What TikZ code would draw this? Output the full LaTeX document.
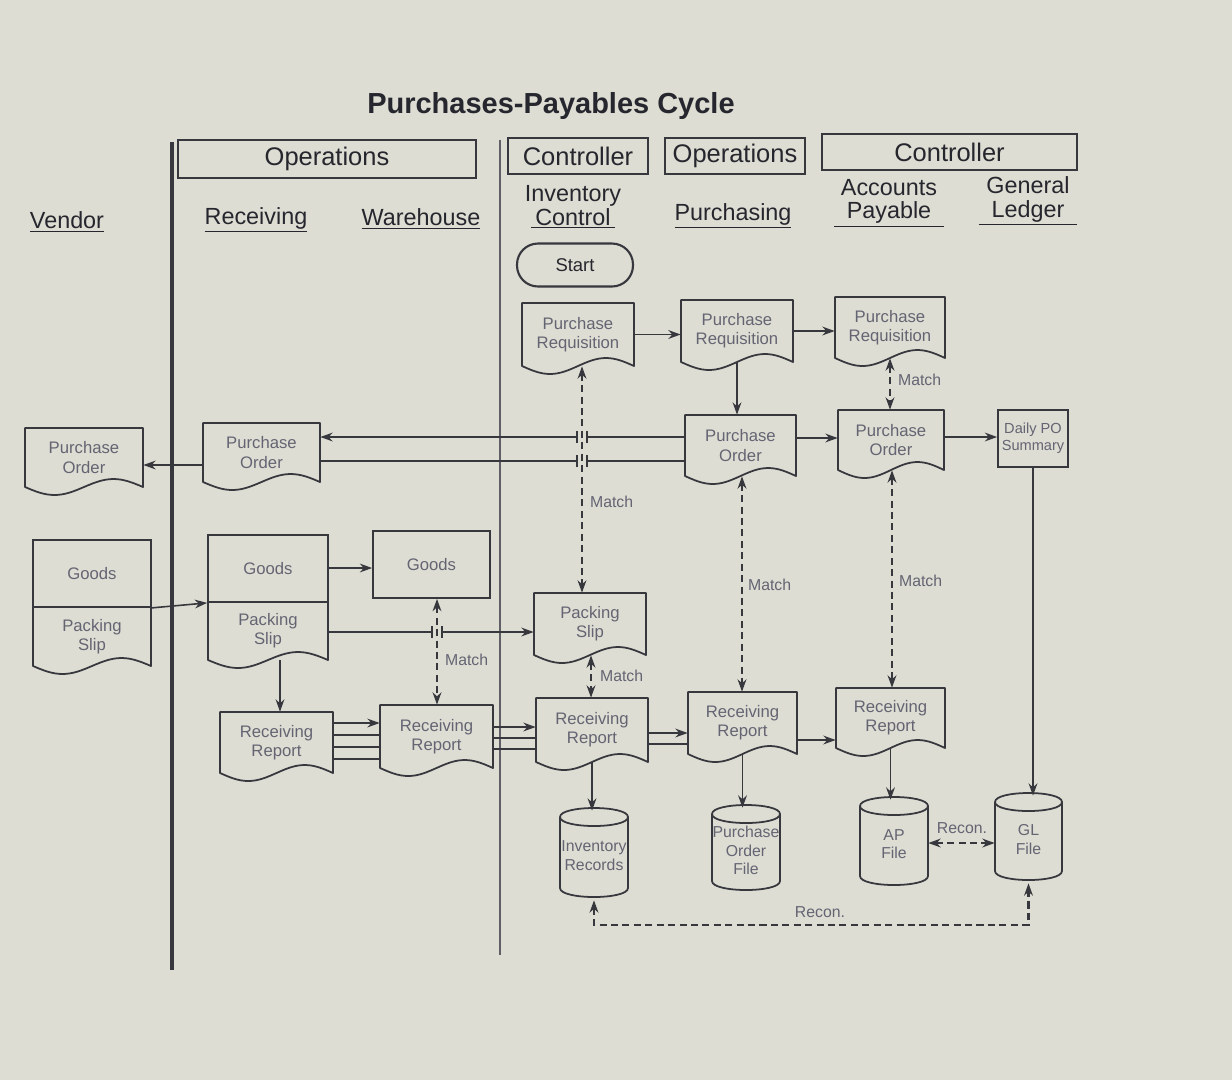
\documentclass[tikz,border=0pt]{standalone}
\usepackage{fontspec}
\setmainfont{Liberation Sans}
\usetikzlibrary{arrows.meta,calc}
\definecolor{bg}{RGB}{221,221,211}
\definecolor{ln}{RGB}{55,55,62}
\definecolor{tx}{RGB}{100,100,115}
\definecolor{hd}{RGB}{38,38,46}

% box node placed by corners (pixel coords): style, name, x1, y1, x2, y2, text
\newcommand\boxat[7]{%
  \pgfmathsetmacro\mycx{(#3+#5)/2}%
  \pgfmathsetmacro\mycy{(#4+#6)/2}%
  \pgfmathsetmacro\myw{(#5-#3)*0.02}%
  \pgfmathsetmacro\myh{(#6-#4)*0.02}%
  \node[#1, minimum width=\myw cm, minimum height=\myh cm] (#2) at (\mycx,\mycy) {#7};
}
\newcommand\docshape[6]{%
  \boxat{doctxt}{#1}{#2}{#3}{#4}{#5}{#6}%
  \pgfmathsetmacro\mydq{(#4-#2)/4}%
  \draw[shp] (#4,#5) sin ++(-\mydq,-8) cos ++(-\mydq,8) sin ++(-\mydq,8) cos ++(-\mydq,-8) -- (#2,#3) -- (#4,#3) -- cycle;
}
\newcommand\cylshape[6]{%
  \boxat{cyltxt}{#1}{#2}{#3}{#4}{#5}{#6}%
  \draw[shp] (#2,#3+9) -- (#2,#5-9) .. controls (#2,#5+3) and (#4,#5+3) .. (#4,#5-9) -- (#4,#3+9);
  \draw[shp] (#2,#3+9) .. controls (#2,#3-3) and (#4,#3-3) .. (#4,#3+9) .. controls (#4,#3+21) and (#2,#3+21) .. cycle;
}
\newcommand\bridge[2]{%
  \fill[bg] (#1-5,#2-3) rectangle (#1+5,#2+3);
  \draw[ln, line width=0.8pt] (#1-5,#2-6) -- (#1-5,#2+6) (#1+5,#2-6) -- (#1+5,#2+6);
}

\begin{document}
\begin{tikzpicture}[x=0.02cm, y=-0.02cm,
  shp/.style={draw=ln, line width=1pt, line join=round},
  doctxt/.style={inner sep=0pt, align=center, text=tx, font=\fontsize{9.5}{11}\selectfont},
  cyltxt/.style={inner sep=0pt, align=center, text=tx, font=\fontsize{9}{10.5}\selectfont, yshift=-0.06cm},
  rectbox/.style={draw=ln, line width=1pt, inner sep=0pt, align=center, text=tx, font=\fontsize{9.5}{11}\selectfont},
  smallbox/.style={rectbox, font=\fontsize{8.3}{9.5}\selectfont},
  hdbox/.style={draw=ln, line width=1.3pt, inner sep=0pt, text=hd, font=\fontsize{14.5}{17}\selectfont},
  colhd/.style={text=hd, align=center, font=\fontsize{13.3}{13.5}\selectfont},
  arr/.style={draw=ln, line width=0.9pt, -{Stealth[length=7pt,width=5pt]}},
  lnk/.style={draw=ln, line width=0.9pt},
  dsh/.style={draw=ln, line width=1.2pt, dash pattern=on 4pt off 2.5pt, {Stealth[length=7pt,width=5pt]}-{Stealth[length=7pt,width=5pt]}},
  lbl/.style={text=tx, font=\fontsize{9}{10}\selectfont, inner sep=1pt, anchor=west},
]
\fill[bg] (0,0) rectangle (1232,1080);

% title
\node[text=hd, font=\bfseries\fontsize{16.5}{19}\selectfont] (title) at (551,106) {Purchases-Payables Cycle};

% lane lines
\draw[ln, line width=2.8pt] (172,142) -- (172,970);
\draw[ln!80, line width=0.8pt] (500,140) -- (500,955);

% header boxes
\boxat{hdbox}{ops1}{178}{140}{476}{178}{Operations}
\boxat{hdbox}{ctl1}{508}{138}{648}{174}{Controller}
\boxat{hdbox}{ops2}{665}{138}{805}{174}{Operations}
\boxat{hdbox}{ctl2}{822}{134}{1077}{170}{Controller}

% column headers
\node[colhd] (hvendor) at (67,222) {\underline{Vendor}};
\node[colhd] (hrec) at (256,220) {\underline{Receiving}};
\node[colhd] (hwh) at (421,219) {\underline{Warehouse}};
\node[colhd] (hinv) at (573,207) {Inventory\\\underline{\,Control\,}};
\node[colhd] (hpur) at (733,216) {\underline{Purchasing}};
\node[colhd] (hap) at (889,203) {Accounts\\\underline{\ \ Payable\ \ }};
\node[colhd] (hgl) at (1028,201) {General\\\underline{\ \ Ledger\ \ }};

% start
\node[draw=ln, line width=1.2pt, rounded corners=0.42cm, minimum width=2.32cm, minimum height=0.86cm, text=hd, font=\fontsize{10.5}{12}\selectfont] (start) at (575,265) {Start};

% documents
\docshape{pr1}{522}{303}{634}{366}{Purchase\\Requisition}
\docshape{pr2}{681}{300}{793}{362}{Purchase\\Requisition}
\docshape{pr3}{835}{297}{945}{358}{Purchase\\Requisition}
\docshape{povend}{25}{428}{143}{487}{Purchase\\Order}
\docshape{porec}{203}{423}{320}{482}{Purchase\\Order}
\docshape{popur}{685}{415}{796}{476}{Purchase\\Order}
\docshape{poap}{838}{410}{944}{470}{Purchase\\Order}
\boxat{smallbox}{dpo}{998}{410}{1068}{467}{Daily PO\\Summary}

\boxat{rectbox}{vgoods}{33}{540}{151}{607}{Goods}
\docshape{vps}{33}{607}{151}{666}{Packing\\Slip}
\boxat{rectbox}{rgoods}{208}{535}{328}{602}{Goods}
\docshape{rps}{208}{602}{328}{660}{Packing\\Slip}
\boxat{rectbox}{whgoods}{373}{531}{490}{598}{Goods}
\docshape{psinv}{534}{593}{646}{655}{Packing\\Slip}

\docshape{rrrec}{220}{712}{333}{773}{Receiving\\Report}
\docshape{rrwh}{380}{705}{493}{768}{Receiving\\Report}
\docshape{rrinv}{536}{698}{648}{762}{Receiving\\Report}
\docshape{rrpur}{688}{692}{797}{754}{Receiving\\Report}
\docshape{rrap}{836}{688}{945}{748}{Receiving\\Report}

% files
\cylshape{invrec}{560}{808}{628}{897}{Inventory\\Records}
\cylshape{pofile}{712}{805}{780}{890}{Purchase\\Order\\File}
\cylshape{apfile}{860}{797}{928}{885}{AP\\File}
\cylshape{glfile}{995}{793}{1062}{880}{GL\\File}

% solid flows
\draw[arr] (pr1.east) -- (pr1.east -| pr2.west);
\draw[arr] (pr2.east) -- (pr2.east -| pr3.west);
\draw[arr] (pr2.south) -- (pr2.south |- popur.north);
\draw[arr] (popur.east |- 0,438) -- (poap.west |- 0,438);
\draw[arr] (poap.east |- 0,437) -- (dpo.west |- 0,437);
\draw[arr] (dpo.south) -- (dpo.south |- glfile.north);
\draw[arr] (popur.west |- 0,437) -- (porec.east |- 0,437);
\draw[lnk] (popur.west |- 0,461) -- (porec.east |- 0,461);
\draw[arr] (porec.west |- 0,465) -- (povend.east |- 0,465);
\draw[arr] (vgoods.south east) -- (rgoods.south west);
\draw[arr] (rgoods.east |- 0,568) -- (whgoods.west |- 0,568);
\draw[arr] (rps.east |- 0,632) -- (psinv.west |- 0,632);
\draw[arr] (280,0 |- rps.south) -- (280,0 |- rrrec.north);
\draw[arr] (rrrec.east |- 0,723) -- (rrwh.west |- 0,723);
\foreach \yy in {735,747,759} \draw[lnk] (rrrec.east |- 0,\yy) -- (rrwh.west |- 0,\yy);
\draw[arr] (rrwh.east |- 0,727) -- (rrinv.west |- 0,727);
\foreach \yy in {738,749} \draw[lnk] (rrwh.east |- 0,\yy) -- (rrinv.west |- 0,\yy);
\draw[arr] (rrinv.east |- 0,733) -- (rrpur.west |- 0,733);
\draw[lnk] (rrinv.east |- 0,744) -- (rrpur.west |- 0,744);
\draw[arr] (rrpur.east |- 0,740) -- (rrap.west |- 0,740);
\draw[arr] (rrinv.south) -- (rrinv.south |- invrec.north);
\draw[arr] (rrpur.south) -- (rrpur.south |- pofile.north);
\draw[arr] (rrap.south) -- (rrap.south |- apfile.north);

% bridges at crossings
\bridge{582}{437}
\bridge{582}{461}
\bridge{437}{632}

% dashed matches
\draw[dsh] (pr3.south) -- (pr3.south |- poap.north);
\node[lbl] (m1) at (896,380) {Match};
\draw[dsh] (582,0 |- pr1.south) -- (582,0 |- psinv.north);
\node[lbl] (m2) at (588,502) {Match};
\draw[dsh] (437,0 |- whgoods.south) -- (437,0 |- rrwh.north);
\node[lbl] (m3) at (443,660) {Match};
\draw[dsh] (591,0 |- psinv.south) -- (591,0 |- rrinv.north);
\node[lbl] (m4) at (598,676) {Match};
\draw[dsh] (742,0 |- popur.south) -- (742,0 |- rrpur.north);
\node[lbl] (m5) at (746,585) {Match};
\draw[dsh] (892,0 |- poap.south) -- (892,0 |- rrap.north);
\node[lbl] (m6) at (897,581) {Match};
\draw[dsh] (apfile.east |- 0,843) -- (glfile.west |- 0,843);
\node[lbl, anchor=center] (r1) at (962,828) {Recon.};
\draw[dsh] (invrec.south) -- (invrec.south |- 0,925) -- (glfile.south |- 0,925) -- (glfile.south);
\node[lbl, anchor=center] (r2) at (820,912) {Recon.};
\end{tikzpicture}
\end{document}
